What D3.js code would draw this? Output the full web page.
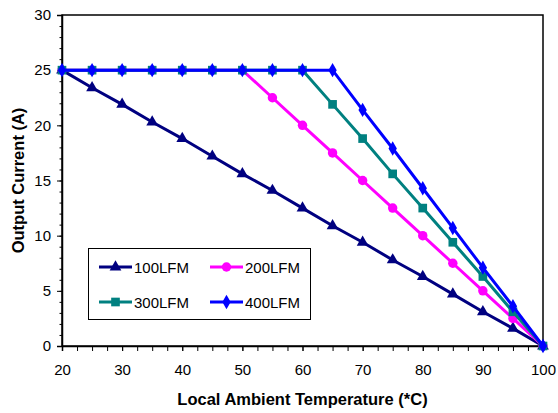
<!DOCTYPE html>
<html><head><meta charset="utf-8">
<script src="https://cdn.jsdelivr.net/npm/d3@7"></script>
<style>
body{margin:0;background:#fff;}
svg{display:block;font-family:"Liberation Sans",Arial,sans-serif;}
</style></head><body>
<svg id="c" width="558" height="413"></svg>
<script>
const temps = [20,25,30,35,40,45,50,55,60,65,70,75,80,85,90,95,100];
const s100 = [25,23.4,21.9,20.3,18.8,17.2,15.6,14.1,12.5,10.9,9.4,7.8,6.3,4.7,3.1,1.6,0];
const s200 = [25,25,25,25,25,25,25,22.5,20,17.5,15,12.5,10,7.5,5,2.5,0];
const s300 = [25,25,25,25,25,25,25,25,25,21.9,18.8,15.6,12.5,9.4,6.3,3.1,0];
const s400 = [25,25,25,25,25,25,25,25,25,25,21.4,17.9,14.3,10.7,7.1,3.6,0];
const seriesNames = ["100LFM","200LFM","300LFM","400LFM"];
const seriesColors = ["#000080","#FF00FF","#008080","#0000FF"];
const seriesSymbols = [d3.symbolTriangle, d3.symbolCircle, d3.symbolSquare, d3.symbolDiamond];
const xTicks = [20,30,40,50,60,70,80,90,100];
const yTicks = [0,5,10,15,20,25,30];

const svg = d3.select("#c");
const L=62, R=543, T=15, B=346;
const x = d3.scaleLinear().domain([20,100]).range([L,R]);
const y = d3.scaleLinear().domain([0,30]).range([B,T]);

// frame
svg.append("rect").attr("x",L).attr("y",T).attr("width",R-L).attr("height",B-T)
  .attr("fill","#fff").attr("stroke","#000").attr("stroke-width",1.5);

// y axis minor ticks
const yAxis = svg.append("g").attr("transform",`translate(${L},0)`);
yAxis.call(d3.axisLeft(y).tickValues(d3.range(0,31,1)).tickSize(2.5).tickFormat(""));
yAxis.call(g=>g.select(".domain").remove());
const yMaj = svg.append("g").attr("transform",`translate(${L},0)`)
  .call(d3.axisLeft(y).tickValues(yTicks).tickSize(5).tickPadding(6));
yMaj.select(".domain").attr("stroke-width",1.5);
yMaj.selectAll("text").attr("font-size",15).attr("font-family","Liberation Sans, Arial, sans-serif").attr("fill","#000");

const xAxis = svg.append("g").attr("transform",`translate(0,${B})`)
  .call(d3.axisBottom(x).tickValues(d3.range(20,100.1,2.5)).tickSize(5).tickFormat(""));
xAxis.select(".domain").attr("stroke-width",1.5);
const xMaj = svg.append("g").attr("transform",`translate(0,${B})`)
  .call(d3.axisBottom(x).tickValues(xTicks).tickSize(5).tickPadding(13));
xMaj.select(".domain").remove();
xMaj.selectAll("text").attr("font-size",15).attr("font-family","Liberation Sans, Arial, sans-serif").attr("fill","#000");

// axis titles
svg.append("text").attr("x",(L+R)/2).attr("y",405).attr("text-anchor","middle")
  .attr("font-size",16.5).attr("font-weight","bold").text("Local Ambient Temperature (*C)");
svg.append("text").attr("transform",`translate(24,${(T+B)/2}) rotate(-90)`).attr("text-anchor","middle")
  .attr("font-size",16.5).attr("font-weight","bold").text("Output Current (A)");

const allSeries = [s100,s200,s300,s400];
const line = d3.line().x((d,i)=>x(temps[i])).y(d=>y(d));
const symSizes = [60,70,75,60];
allSeries.forEach((s,k)=>{
  const g = svg.append("g");
  g.append("path").datum(s).attr("d",line).attr("fill","none")
    .attr("stroke",seriesColors[k]).attr("stroke-width",3);
  g.selectAll("path.m").data(s).enter().append("path").attr("class","m")
    .attr("transform",(d,i)=>`translate(${x(temps[i])},${y(d)})`)
    .attr("d",d3.symbol().type(seriesSymbols[k]).size(symSizes[k]))
    .attr("fill",seriesColors[k]);
});

// legend
const lg = svg.append("g");
lg.append("rect").attr("x",88.5).attr("y",248.5).attr("width",222).attr("height",71)
  .attr("fill","#fff").attr("stroke","#000").attr("stroke-width",1);
const lpos = [[99,267],[210,267],[99,302],[210,302]];
seriesNames.forEach((n,k)=>{
  const [lx,ly]=lpos[k];
  lg.append("line").attr("x1",lx).attr("x2",lx+33).attr("y1",ly).attr("y2",ly)
    .attr("stroke",seriesColors[k]).attr("stroke-width",3);
  lg.append("path").attr("transform",`translate(${lx+16.5},${ly})`)
    .attr("d",d3.symbol().type(seriesSymbols[k]).size(symSizes[k])).attr("fill",seriesColors[k]);
  lg.append("text").attr("x",lx+35).attr("y",ly+5.5).attr("font-size",15).text(n);
});
</script>
</body></html>
